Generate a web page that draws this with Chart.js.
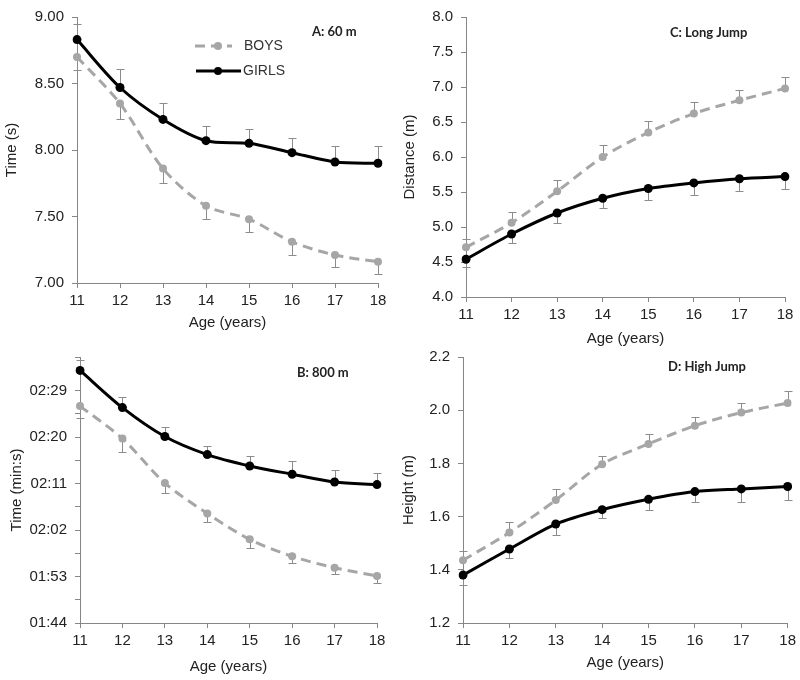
<!DOCTYPE html>
<html>
<head>
<meta charset="utf-8">
<script src="https://cdn.jsdelivr.net/npm/chart.js@4.4.0/dist/chart.umd.min.js"></script>
<style>
    body { margin: 0; background: #fff; }
    #wrap { position: relative; width: 800px; height: 680px; }
    #wrap canvas { position: absolute; }
</style>
</head>
<body>
<div id="wrap">
    <canvas id="chart60" width="400" height="332" style="left:0px;top:0px"></canvas>
    <canvas id="chartLong" width="400" height="348" style="left:400px;top:0px"></canvas>
    <canvas id="chart800" width="400" height="340" style="left:0px;top:340px"></canvas>
    <canvas id="chartHigh" width="400" height="340" style="left:400px;top:340px"></canvas>
</div>
<script>
var ages = [11, 12, 13, 14, 15, 16, 17, 18];

// A: 60 m, seconds (boys SD drawn down, girls SD drawn up)
var boys60 = [8.70, 8.35, 7.86, 7.58, 7.48, 7.31, 7.21, 7.16];
var boys60Sd = [0.10, 0.12, 0.11, 0.10, 0.10, 0.10, 0.09, 0.09];
var girls60 = [8.83, 8.47, 8.23, 8.07, 8.05, 7.98, 7.91, 7.90];
var girls60Sd = [0.12, 0.14, 0.12, 0.11, 0.11, 0.11, 0.12, 0.13];
var ticks60 = [7.0, 7.5, 8.0, 8.5, 9.0];

// B: 800 m, seconds
var boys800 = [146.0, 139.7, 131.1, 125.2, 120.2, 116.9, 114.7, 113.1];
var boys800Sd = [2.3, 2.5, 1.9, 1.7, 1.6, 1.3, 1.2, 1.4];
var girls800 = [152.9, 145.7, 140.1, 136.6, 134.4, 132.8, 131.3, 130.8];
var girls800Sd = [2.0, 2.0, 1.8, 1.7, 1.9, 2.6, 2.4, 2.3];
var ticks800 = [104, 108.5, 113, 117.5, 122, 126.5, 131, 135.5, 140, 144.5, 149, 155.5];
var labels800 = [104, 113, 122, 131, 140, 149];

// C: long jump, metres
var boysLong = [4.71, 5.06, 5.51, 6.00, 6.35, 6.62, 6.81, 6.98];
var boysLongSd = [0.12, 0.15, 0.16, 0.17, 0.16, 0.16, 0.15, 0.16];
var girlsLong = [4.54, 4.90, 5.20, 5.41, 5.55, 5.63, 5.69, 5.72];
var girlsLongSd = [0.11, 0.13, 0.14, 0.14, 0.17, 0.17, 0.17, 0.18];
var ticksLong = [4.0, 4.5, 5.0, 5.5, 6.0, 6.5, 7.0, 7.5, 8.0];

// D: high jump, metres
var boysHigh = [1.436, 1.540, 1.662, 1.797, 1.873, 1.942, 1.991, 2.027];
var boysHighSd = [0.035, 0.038, 0.042, 0.032, 0.038, 0.032, 0.036, 0.045];
var girlsHigh = [1.380, 1.478, 1.572, 1.626, 1.665, 1.694, 1.704, 1.713];
var girlsHighSd = [0.038, 0.033, 0.040, 0.033, 0.040, 0.038, 0.048, 0.051];
var ticksHigh = [1.2, 1.4, 1.6, 1.8, 2.0, 2.2];

var AXIS = '#868686';
var TEXT = '#222';
var BOYS = '#a6a6a6';
var GIRLS = '#000';

// SD whiskers, one direction only like the original figure
var errorBars = {
    id: 'errorBars',
    beforeDatasetsDraw: function (chart) {
        var ctx = chart.ctx;
        var yScale = chart.scales.y;
        chart.data.datasets.forEach(function (ds, i) {
            var meta = chart.getDatasetMeta(i);
            ctx.save();
            ctx.strokeStyle = '#8c8c8c';
            ctx.lineWidth = 1;
            meta.data.forEach(function (pt, j) {
                var v = ds.data[j];
                var x = Math.round(pt.x) + 0.5;
                var y0 = yScale.getPixelForValue(v);
                var y1 = Math.round(yScale.getPixelForValue(v + ds.sdDir * ds.sd[j])) + 0.5;
                ctx.beginPath();
                ctx.moveTo(x, y0);
                ctx.lineTo(x, y1);
                ctx.moveTo(x - 4, y1);
                ctx.lineTo(x + 4, y1);
                ctx.stroke();
            });
            ctx.restore();
        });
    }
};

var panelText = {
    id: 'panelText',
    afterDraw: function (chart, args, opts) {
        var ctx = chart.ctx;
        ctx.save();
        ctx.fillStyle = TEXT;
        ctx.font = 'bold 13px Lato';
        ctx.textBaseline = 'middle';
        ctx.fillText(opts.text, opts.x, opts.y);
        if (opts.legend) {
            ctx.font = '14px "Liberation Sans"';
            ctx.fillStyle = '#333';
            // boys
            ctx.strokeStyle = BOYS;
            ctx.lineWidth = 3;
            ctx.setLineDash([10, 6]);
            ctx.beginPath(); ctx.moveTo(195, 46); ctx.lineTo(232, 46); ctx.stroke();
            ctx.setLineDash([]);
            ctx.fillStyle = BOYS;
            ctx.beginPath(); ctx.arc(218, 46, 4, 0, Math.PI * 2); ctx.fill();
            ctx.fillStyle = '#333';
            ctx.fillText('BOYS', 244, 46);
            // girls
            ctx.strokeStyle = GIRLS;
            ctx.beginPath(); ctx.moveTo(196, 71); ctx.lineTo(241, 71); ctx.stroke();
            ctx.fillStyle = GIRLS;
            ctx.beginPath(); ctx.arc(218, 71, 4, 0, Math.PI * 2); ctx.fill();
            ctx.fillStyle = '#333';
            ctx.fillText('GIRLS', 243, 71);
        }
        ctx.restore();
    }
};

var app = {};
app.Main = {
    init: function () {
        var file = this;
        file.makeChart('chart60', {
            boys: boys60, boysSd: boys60Sd, boysDir: -1,
            girls: girls60, girlsSd: girls60Sd, girlsDir: 1,
            ticks: ticks60, format: function (v) { return v.toFixed(2); },
            yTitle: 'Time (s)', yWidth: 77, yTitlePad: 3,
            xHeight: 49, xTitlePad: 0, top: 13, right: 22,
            label: { text: 'A: 60 m', x: 312, y: 32, legend: true }
        });
        file.makeChart('chartLong', {
            boys: boysLong, boysSd: boysLongSd, boysDir: 1,
            girls: girlsLong, girlsSd: girlsLongSd, girlsDir: -1,
            ticks: ticksLong, format: function (v) { return v.toFixed(1); },
            yTitle: 'Distance (m)', yWidth: 66, yTitlePad: 1,
            xHeight: 51, xTitlePad: 0, top: 11, right: 15,
            label: { text: 'C: Long Jump', x: 270, y: 33 }
        });
        file.makeChart('chart800', {
            boys: boys800, boysSd: boys800Sd, boysDir: -1,
            girls: girls800, girlsSd: girls800Sd, girlsDir: 1,
            ticks: ticks800, format: function (v) {
                if (labels800.indexOf(v) < 0) return '';
                var m = Math.floor(v / 60), s = v % 60;
                return '0' + m + ':' + (s < 10 ? '0' : '') + s;
            },
            yTitle: 'Time (min:s)', yWidth: 80, yTitlePad: 8,
            xHeight: 57, xTitlePad: 4, top: 17, right: 23,
            label: { text: 'B: 800 m', x: 297, y: 33 }
        });
        file.makeChart('chartHigh', {
            boys: boysHigh, boysSd: boysHighSd, boysDir: 1,
            girls: girlsHigh, girlsSd: girlsHighSd, girlsDir: -1,
            ticks: ticksHigh, format: function (v) { return v.toFixed(1); },
            yTitle: 'Height (m)', yWidth: 63, yTitlePad: 0,
            xHeight: 57, xTitlePad: 8, top: 17, right: 12,
            label: { text: 'D: High Jump', x: 268, y: 27 }
        });
    },
    makeChart: function (id, p) {
        var tickFont = { family: '"Liberation Sans", Arial', size: 15 };
        var ctx = document.getElementById(id).getContext('2d');
        new Chart(ctx, {
            type: 'line',
            data: {
                labels: ages,
                datasets: [
                    {
                        label: 'BOYS',
                        data: p.boys,
                        sd: p.boysSd,
                        sdDir: p.boysDir,
                        borderColor: BOYS,
                        backgroundColor: BOYS,
                        borderWidth: 3,
                        borderDash: [10, 6],
                        pointRadius: 4,
                        pointBorderWidth: 0,
                        tension: 0.3
                    },
                    {
                        label: 'GIRLS',
                        data: p.girls,
                        sd: p.girlsSd,
                        sdDir: p.girlsDir,
                        borderColor: GIRLS,
                        backgroundColor: GIRLS,
                        borderWidth: 3,
                        pointRadius: 4.5,
                        pointBorderWidth: 0,
                        tension: 0.3
                    }
                ]
            },
            options: {
                responsive: false,
                animation: false,
                layout: { padding: { top: p.top, right: p.right, left: 0, bottom: 0 } },
                plugins: {
                    legend: { display: false },
                    tooltip: { enabled: false },
                    panelText: p.label
                },
                scales: {
                    x: {
                        type: 'category',
                        offset: false,
                        grid: { drawOnChartArea: false, tickLength: 5, color: AXIS },
                        border: { color: AXIS },
                        ticks: { color: TEXT, font: tickFont, padding: 4, maxRotation: 0, autoSkip: false },
                        title: { display: true, text: 'Age (years)', color: TEXT, font: tickFont, padding: { top: 0, bottom: p.xTitlePad } },
                        afterFit: function (s) { s.height = p.xHeight; }
                    },
                    y: {
                        type: 'linear',
                        min: p.ticks[0],
                        max: p.ticks[p.ticks.length - 1],
                        afterBuildTicks: function (s) {
                            s.ticks = p.ticks.map(function (v) { return { value: v }; });
                        },
                        grid: { drawOnChartArea: false, tickLength: 5, color: AXIS },
                        border: { color: AXIS },
                        ticks: { color: TEXT, font: tickFont, padding: 8, autoSkip: false, callback: function (v) { return p.format(v); } },
                        title: { display: true, text: p.yTitle, color: TEXT, font: tickFont, padding: { top: p.yTitlePad, bottom: 0 } },
                        afterFit: function (s) { s.width = p.yWidth; }
                    }
                }
            },
            plugins: [errorBars, panelText]
        });
    }
};

app.Main.init();
</script>
</body>
</html>
